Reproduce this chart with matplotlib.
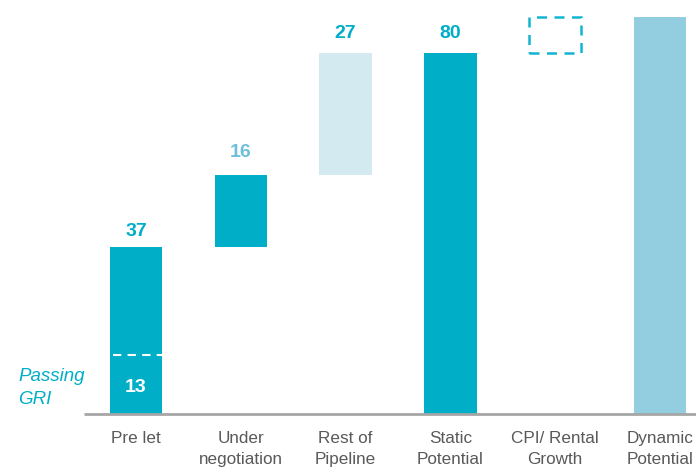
import matplotlib
matplotlib.use("Agg")
import matplotlib.pyplot as plt

plt.rcParams['font.family'] = ['Liberation Sans', 'DejaVu Sans']

categories = ["Pre let", "Under\nnegotiation", "Rest of\nPipeline", "Static\nPotential",
              "CPI/ Rental\nGrowth", "Dynamic\nPotential"]
bottoms = [0, 37, 53, 0, 80, 0]
heights = [37, 16, 27, 80, 8, 88]
value_labels = ["37", "16", "27", "80", None, None]
passing_gri = 13

TEAL = "#00AEC7"
LIGHT = "#D3EAF1"
DYN = "#92CDE0"
LABEL16 = "#6DBEDC"
GREY = "#595959"

fig = plt.figure(figsize=(6.96, 4.67), dpi=100)
ax = fig.add_axes([0, 53 / 467, 1, 414 / 467])

xmin = -136 / 104.8
xmax = xmin + 696 / 104.8
ax.set_xlim(xmin, xmax)
ax.set_ylim(0, 414 / 4.51)

x = list(range(len(categories)))
width = 0.5
face = [TEAL, TEAL, LIGHT, TEAL, "none", DYN]
for i in x:
    if i == 4:
        ax.bar(i, heights[i], width, bottom=bottoms[i], fill=False,
               edgecolor="#12B5D0", linewidth=1.8, linestyle=(0, (4, 3)))
    else:
        ax.bar(i, heights[i], width, bottom=bottoms[i], color=face[i], linewidth=0)

# passing GRI marker inside the pre-let bar
ax.plot([0 - width / 2 + 0.03, width / 2], [passing_gri, passing_gri],
        color="white", linewidth=1.5, linestyle=(0, (4, 3)))
ax.text(0, 5.8, str(passing_gri), color="white", fontsize=14, fontweight="bold",
        ha="center", va="center")
ax.text(xmin + 18 / 104.8, 5.7, "Passing\nGRI", color=TEAL, fontsize=13.5,
        fontstyle="italic", ha="left", va="center", linespacing=1.45)

label_colors = [TEAL, LABEL16, TEAL, TEAL]
offsets = [11.5, 16.5, 14, 14]
for i, lab in enumerate(value_labels):
    if lab is None:
        continue
    ax.annotate(lab, (i, bottoms[i] + heights[i]), xytext=(0, offsets[i]),
                textcoords="offset points", ha="center", va="center",
                color=label_colors[i], fontsize=14, fontweight="bold")

# baseline
ax.plot([-0.495, xmax], [0, 0], color="#A6A6A6", linewidth=2, clip_on=False,
        solid_capstyle="butt")

for i, c in enumerate(categories):
    ax.text(i, -3.8, c, ha="center", va="top", color=GREY, fontsize=12.3,
            linespacing=1.5, clip_on=False)

ax.axis("off")
fig.savefig("out.png", dpi=100)
